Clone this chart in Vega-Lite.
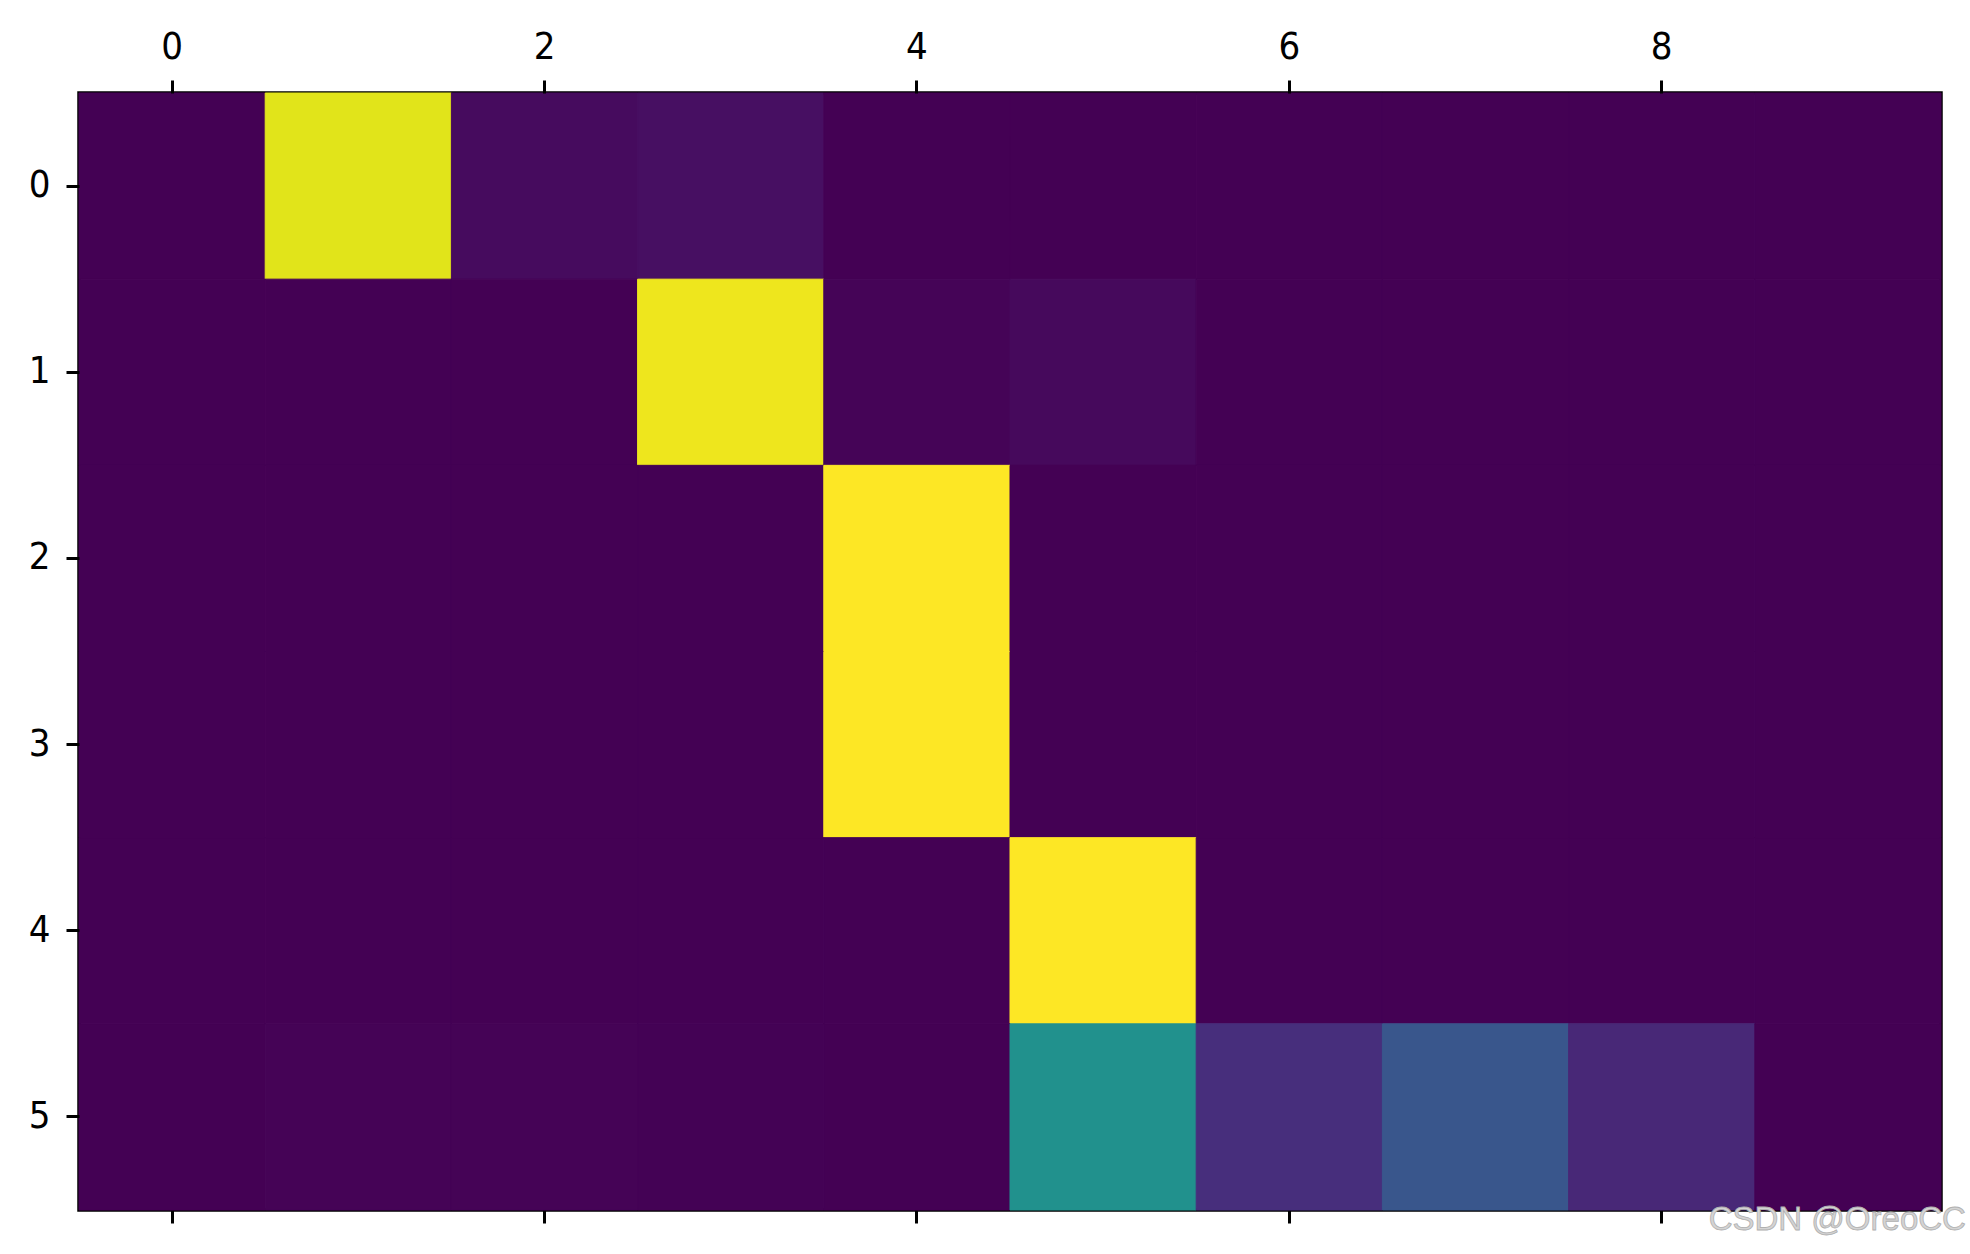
{
  "$schema": "https://vega.github.io/schema/vega-lite/v6.json",
  "width": 1862,
  "height": 1117,
  "autosize": {"type": "none"},
  "padding": {"left": 79, "top": 93, "right": 29, "bottom": 44},
  "background": "white",
  "config": {
    "view": {"stroke": "black", "strokeWidth": 3.5},
    "axis": {
      "labelFont": "DejaVu Sans Condensed, Liberation Sans, sans-serif",
      "labelFontSize": 38,
      "labelColor": "black",
      "tickColor": "black",
      "tickWidth": 3,
      "tickSize": 13,
      "domain": false,
      "grid": false,
      "title": null,
      "labelAngle": 0
    }
  },
  "layer": [
    {
      "data": {
        "values": [
          {"row": 0, "col": 0, "v": 0}, {"row": 0, "col": 1, "v": 0.955}, {"row": 0, "col": 2, "v": 0.025}, {"row": 0, "col": 3, "v": 0.035}, {"row": 0, "col": 4, "v": 0}, {"row": 0, "col": 5, "v": 0}, {"row": 0, "col": 6, "v": 0}, {"row": 0, "col": 7, "v": 0}, {"row": 0, "col": 8, "v": 0}, {"row": 0, "col": 9, "v": 0},
          {"row": 1, "col": 0, "v": 0}, {"row": 1, "col": 1, "v": 0}, {"row": 1, "col": 2, "v": 0}, {"row": 1, "col": 3, "v": 0.975}, {"row": 1, "col": 4, "v": 0.008}, {"row": 1, "col": 5, "v": 0.02}, {"row": 1, "col": 6, "v": 0}, {"row": 1, "col": 7, "v": 0}, {"row": 1, "col": 8, "v": 0}, {"row": 1, "col": 9, "v": 0},
          {"row": 2, "col": 0, "v": 0}, {"row": 2, "col": 1, "v": 0}, {"row": 2, "col": 2, "v": 0}, {"row": 2, "col": 3, "v": 0}, {"row": 2, "col": 4, "v": 1.0}, {"row": 2, "col": 5, "v": 0}, {"row": 2, "col": 6, "v": 0}, {"row": 2, "col": 7, "v": 0}, {"row": 2, "col": 8, "v": 0}, {"row": 2, "col": 9, "v": 0},
          {"row": 3, "col": 0, "v": 0}, {"row": 3, "col": 1, "v": 0}, {"row": 3, "col": 2, "v": 0}, {"row": 3, "col": 3, "v": 0}, {"row": 3, "col": 4, "v": 1.0}, {"row": 3, "col": 5, "v": 0}, {"row": 3, "col": 6, "v": 0}, {"row": 3, "col": 7, "v": 0}, {"row": 3, "col": 8, "v": 0}, {"row": 3, "col": 9, "v": 0},
          {"row": 4, "col": 0, "v": 0}, {"row": 4, "col": 1, "v": 0}, {"row": 4, "col": 2, "v": 0}, {"row": 4, "col": 3, "v": 0}, {"row": 4, "col": 4, "v": 0}, {"row": 4, "col": 5, "v": 1.0}, {"row": 4, "col": 6, "v": 0}, {"row": 4, "col": 7, "v": 0}, {"row": 4, "col": 8, "v": 0}, {"row": 4, "col": 9, "v": 0},
          {"row": 5, "col": 0, "v": 0}, {"row": 5, "col": 1, "v": 0.006}, {"row": 5, "col": 2, "v": 0.006}, {"row": 5, "col": 3, "v": 0.002}, {"row": 5, "col": 4, "v": 0}, {"row": 5, "col": 5, "v": 0.5}, {"row": 5, "col": 6, "v": 0.13}, {"row": 5, "col": 7, "v": 0.265}, {"row": 5, "col": 8, "v": 0.11}, {"row": 5, "col": 9, "v": 0}
        ]
      },
      "mark": {"type": "rect", "strokeWidth": 1},
      "encoding": {
        "x": {
          "field": "col",
          "type": "ordinal",
          "scale": {"paddingInner": 0, "paddingOuter": 0},
          "axis": {"orient": "top", "values": [0, 2, 4, 6, 8], "labelPadding": 14}
        },
        "y": {
          "field": "row",
          "type": "ordinal",
          "scale": {"paddingInner": 0, "paddingOuter": 0},
          "axis": {"orient": "left", "labelPadding": 16}
        },
        "color": {
          "field": "v",
          "type": "quantitative",
          "scale": {"scheme": "viridis", "domain": [0, 1]},
          "legend": null
        },
        "stroke": {
          "field": "v",
          "type": "quantitative",
          "scale": {"scheme": "viridis", "domain": [0, 1]},
          "legend": null
        }
      }
    },
    {
      "data": {"values": [{"row": 5, "col": 9, "wm": "CSDN @OreoCC"}]},
      "mark": {
        "type": "text",
        "align": "right",
        "baseline": "middle",
        "font": "Liberation Sans",
        "fontSize": 33,
        "fill": "#d4d4d4",
        "stroke": "#b0b0b0",
        "strokeWidth": 0.8,
        "dx": 118,
        "dy": 103
      },
      "encoding": {
        "x": {
          "field": "col",
          "type": "ordinal",
          "axis": {"orient": "bottom", "values": [0, 2, 4, 6, 8], "labels": false}
        },
        "y": {
          "field": "row",
          "type": "ordinal",
          "axis": {"orient": "left", "labelPadding": 16}
        },
        "text": {"field": "wm"}
      }
    }
  ],
  "resolve": {"axis": {"x": "independent"}}
}
